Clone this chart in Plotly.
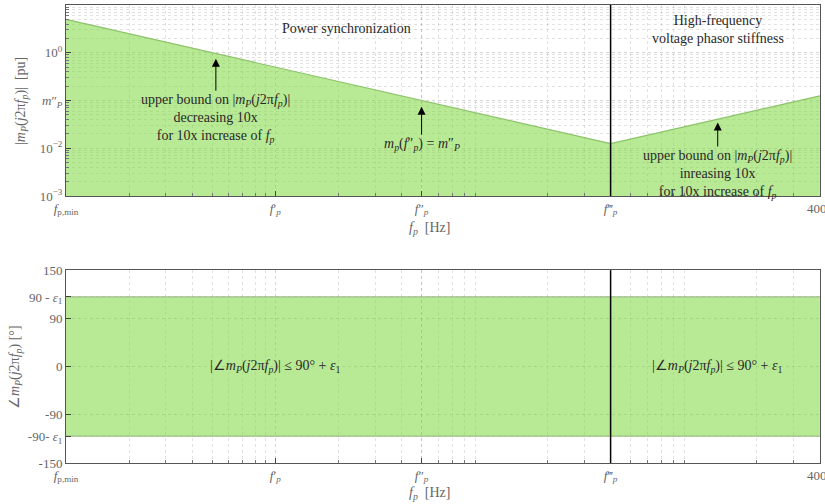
import numpy as np
import plotly.graph_objects as go
from plotly.subplots import make_subplots

# ---------------- data ----------------
# magnitude upper bound (top panel)
f_mag = [1, 400, 4000]            # Hz: f_p,min, f'''_p, right end
m_mag = [5, 0.0125, 0.125]        # pu
mag_floor = [1e-3, 1e-3, 1e-3]

# phase bound (bottom panel)
f_phase = [1, 4000]
phase_hi = [130, 130]
phase_lo = [-130, -130]

f_min, f1, f2, f3, f_max = 1, 10, 50, 400, 4000
x_tickvals = [f_min, f1, f2, f3, f_max]
x_ticktext = ["<i>f</i><sub>p,min</sub>", "<i>f</i>′<sub><i>p</i></sub>",
              "<i>f</i>″<sub><i>p</i></sub>", "<i>f</i>‴<sub><i>p</i></sub>", "4000"]
y1_tickvals = [1e-3, 1e-2, 1e-1, 1e0]
y1_ticktext = ["10<sup>−3</sup>", "10<sup>−2</sup>", "<i>m</i>″<sub><i>P</i></sub>", "10<sup>0</sup>"]
y2_tickvals = [-180, -130, -90, 0, 90, 130, 180]
y2_ticktext = ["-150", "-90- <i>ε</i><sub>1</sub>", "-90", "0", "90", "90 - <i>ε</i><sub>1</sub>", "150"]

x_minor = [m * 10 ** k for k in range(0, 4) for m in range(2, 10) if m * 10 ** k < f_max]
y1_minor = [m * 10 ** k for k in range(-3, 1) for m in range(2, 10)]

FONT = "Liberation Serif"
GREEN_FILL = "rgba(126,215,60,0.55)"
GREEN_LINE = "#8cc36a"
TXT = "#2a2a2a"
TICKC = "#666666"
FS = 14

fig = make_subplots(rows=2, cols=1, vertical_spacing=0.16)

# top panel
fig.add_trace(go.Scatter(x=f_mag, y=mag_floor, mode="lines", line=dict(width=0),
                         hoverinfo="skip", showlegend=False), row=1, col=1)
fig.add_trace(go.Scatter(x=f_mag, y=m_mag, mode="lines", fill="tonexty",
                         fillcolor=GREEN_FILL, line=dict(color=GREEN_LINE, width=1.2),
                         showlegend=False), row=1, col=1)
# bottom panel
fig.add_trace(go.Scatter(x=f_phase, y=phase_lo, mode="lines", line=dict(color="#9fbf8a", width=1.2),
                         hoverinfo="skip", showlegend=False), row=2, col=1)
fig.add_trace(go.Scatter(x=f_phase, y=phase_hi, mode="lines", fill="tonexty",
                         fillcolor=GREEN_FILL, line=dict(color="#9fbf8a", width=1.2),
                         showlegend=False), row=2, col=1)

grid_common = dict(showgrid=True, gridcolor="rgba(150,150,150,0.4)", griddash="dot", gridwidth=1)
axis_common = dict(showline=True, linecolor="#555", linewidth=1, mirror=True,
                   ticks="inside", ticklen=5, tickcolor="#444", automargin=False,
                   ticklabeloverflow="allow",
                   tickfont=dict(family=FONT, size=13, color=TICKC), zeroline=False)
minor_grid = dict(ticks="inside", ticklen=3, tickcolor="#777", showgrid=True,
                  gridcolor="rgba(160,160,160,0.3)", griddash="dot")

for r in (1, 2):
    fig.update_xaxes(type="log", range=[0, np.log10(f_max) + 0.0005], tickmode="array",
                     tickvals=x_tickvals, ticktext=x_ticktext,
                     minor=dict(tickmode="array", tickvals=x_minor, **minor_grid),
                     **grid_common, **axis_common, row=r, col=1)

fig.update_yaxes(type="log", range=[-3, 1], tickmode="array",
                 tickvals=y1_tickvals, ticktext=y1_ticktext,
                 minor=dict(tickmode="array", tickvals=y1_minor, **minor_grid),
                 **grid_common, **axis_common, row=1, col=1)
fig.update_yaxes(range=[-180, 180], tickmode="array",
                 tickvals=y2_tickvals, ticktext=y2_ticktext,
                 **grid_common, **axis_common, row=2, col=1)

fig.update_layout(
    width=825, height=504,
    margin=dict(l=66, r=5, t=5, b=41),
    paper_bgcolor="white", plot_bgcolor="white",
    showlegend=False,
    font=dict(family=FONT, size=FS, color=TXT),
    xaxis=dict(domain=[0, 1]), yaxis=dict(domain=[0.583, 1.0]),
    xaxis2=dict(domain=[0, 1]), yaxis2=dict(domain=[0.0, 0.421]),
)

# vertical line at f'''_p
for xr, yref in (("x", "y domain"), ("x2", "y2 domain")):
    fig.add_shape(type="line", x0=f3, x1=f3, y0=0, y1=1, xref=xr, yref=yref,
                  line=dict(color="black", width=1.5))

ann = []
# region labels
ann.append(dict(x=np.log10(22), y=0.5, xref="x", yref="y", text="Power synchronization",
                showarrow=False, font=dict(size=FS, color=TXT)))
ann.append(dict(x=np.log10(1300), y=0.48, xref="x", yref="y",
                text="High-frequency<br>voltage phasor stiffness",
                showarrow=False, font=dict(size=FS, color=TXT)))
# arrows with texts
ann.append(dict(x=np.log10(5.2), y=np.log10(0.75), xref="x", yref="y",
                text="upper bound on |<i>m</i><sub><i>P</i></sub>(<i>j</i>2π<i>f</i><sub><i>p</i></sub>)|<br>decreasing 10x<br>for 10x increase of <i>f</i><sub><i>p</i></sub>",
                showarrow=True, ax=0, ay=60, arrowhead=2, arrowsize=1.6, arrowwidth=1,
                arrowcolor="black", font=dict(size=FS, color=TXT)))
ann.append(dict(x=np.log10(f2), y=-1.13, xref="x", yref="y",
                text="<i>m</i><sub><i>p</i></sub>(<i>f</i>″<sub><i>p</i></sub>) = <i>m</i>″<sub><i>P</i></sub>",
                showarrow=True, ax=0, ay=38, arrowhead=2, arrowsize=1.6, arrowwidth=1,
                arrowcolor="black", font=dict(size=FS, color=TXT)))
ann.append(dict(x=np.log10(1300), y=-1.46, xref="x", yref="y",
                text="upper bound on |<i>m</i><sub><i>P</i></sub>(<i>j</i>2π<i>f</i><sub><i>p</i></sub>)|<br>inreasing 10x<br>for 10x increase of <i>f</i><sub><i>p</i></sub>",
                showarrow=True, ax=0, ay=52, arrowhead=2, arrowsize=1.6, arrowwidth=1,
                arrowcolor="black", font=dict(size=FS, color=TXT)))
# phase texts
ptxt = "|∠<i>m</i><sub><i>P</i></sub>(<i>j</i>2π<i>f</i><sub><i>p</i></sub>)| ≤ 90° + <i>ε</i><sub>1</sub>"
ann.append(dict(x=np.log10(10), y=0, xref="x2", yref="y2", text=ptxt, showarrow=False,
                font=dict(size=FS, color=TXT)))
ann.append(dict(x=np.log10(1300), y=0, xref="x2", yref="y2", text=ptxt, showarrow=False,
                font=dict(size=FS, color=TXT)))
# axis titles
ctr = dict(xanchor="center", yanchor="middle", showarrow=False)
ann.append(dict(x=0.482, y=0.513, xref="paper", yref="paper",
                text="<i>f</i><sub><i>p</i></sub>  [Hz]", font=dict(size=FS, color=TICKC), **ctr))
ann.append(dict(x=0.482, y=-0.066, xref="paper", yref="paper",
                text="<i>f</i><sub><i>p</i></sub>  [Hz]", font=dict(size=FS, color=TICKC), **ctr))
ann.append(dict(x=-0.06, y=0.79, xref="paper", yref="paper", textangle=-90,
                text="|<i>m</i><sub><i>P</i></sub>(<i>j</i>2π<i>f</i><sub><i>p</i></sub>)|  [pu]",
                font=dict(size=FS, color=TICKC), **ctr))
ann.append(dict(x=-0.066, y=0.21, xref="paper", yref="paper", textangle=-90,
                text="∠<i>m</i><sub><i>P</i></sub>(<i>j</i>2π<i>f</i><sub><i>p</i></sub>) [°]",
                font=dict(size=14, color=TICKC), **ctr))
fig.update_layout(annotations=ann)

fig.write_html("out.html", config={"displayModeBar": False},
               post_script="document.body.style.margin='0px';")
